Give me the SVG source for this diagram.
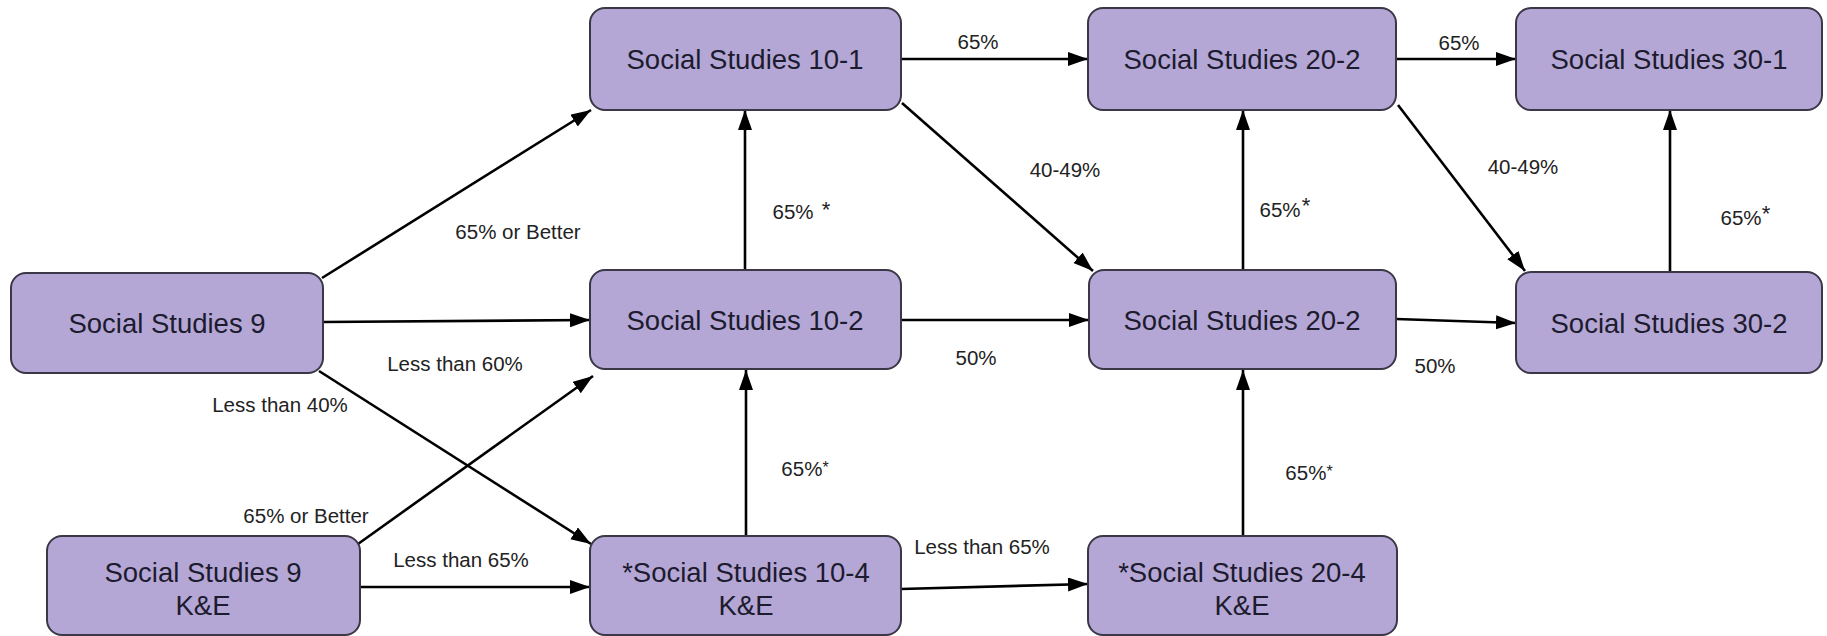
<svg xmlns="http://www.w3.org/2000/svg" width="1827" height="636" viewBox="0 0 1827 636">
<defs>
<marker id="arr" markerUnits="userSpaceOnUse" markerWidth="22" markerHeight="16" refX="20" refY="7" orient="auto">
<path d="M0,0 L20,7 L0,14 z" fill="#000"/>
</marker>
<style>
.box{fill:#b4a7d6;stroke:#3b3746;stroke-width:2}
.nt{font-family:"Liberation Sans",Arial,sans-serif;font-size:27.5px;fill:#1d1b2e;text-anchor:middle}
.lb{font-family:"Liberation Sans",Arial,sans-serif;font-size:20.5px;fill:#222;text-anchor:middle}
.ed{stroke:#000;stroke-width:2.6;fill:none;marker-end:url(#arr)}
</style>
</defs>
<rect width="1827" height="636" fill="#fff"/>
<g id="connectors">
<line class="ed" x1="322" y1="278" x2="591" y2="110"/>
<line class="ed" x1="323" y1="322" x2="590" y2="320"/>
<line class="ed" x1="319" y1="371" x2="591" y2="544"/>
<line class="ed" x1="358" y1="544" x2="593" y2="376"/>
<line class="ed" x1="360" y1="587" x2="590" y2="587"/>
<line class="ed" x1="746" y1="536" x2="746" y2="370"/>
<line class="ed" x1="745" y1="270" x2="745" y2="110"/>
<line class="ed" x1="901" y1="59" x2="1088" y2="59"/>
<line class="ed" x1="902" y1="103" x2="1093" y2="271"/>
<line class="ed" x1="901" y1="320" x2="1089" y2="320"/>
<line class="ed" x1="901" y1="589" x2="1088" y2="584"/>
<line class="ed" x1="1243" y1="536" x2="1243" y2="370"/>
<line class="ed" x1="1243" y1="270" x2="1243" y2="110"/>
<line class="ed" x1="1396" y1="59" x2="1516" y2="59"/>
<line class="ed" x1="1398" y1="105" x2="1525" y2="271"/>
<line class="ed" x1="1396" y1="319" x2="1516" y2="323"/>
<line class="ed" x1="1670" y1="272" x2="1670" y2="110"/>
</g>
<g id="labels">
<text class="lb" x="518" y="239">65% or Better</text>
<text class="lb" x="455" y="371">Less than 60%</text>
<text class="lb" x="280" y="412">Less than 40%</text>
<text class="lb" x="306" y="523">65% or Better</text>
<text class="lb" x="461" y="567">Less than 65%</text>
<text class="lb" x="978" y="49">65%</text>
<text class="lb" x="793" y="219">65%</text>
<text class="lb" x="826" y="217" style="font-size:22px">*</text>
<text class="lb" x="1065" y="177">40-49%</text>
<text class="lb" x="976" y="365">50%</text>
<text class="lb" x="805" y="476">65%<tspan style="font-size:16px" dy="-3">*</tspan></text>
<text class="lb" x="982" y="554">Less than 65%</text>
<text class="lb" x="1459" y="50">65%</text>
<text class="lb" x="1280" y="217">65%</text>
<text class="lb" x="1306" y="213" style="font-size:22px">*</text>
<text class="lb" x="1523" y="174">40-49%</text>
<text class="lb" x="1741" y="225">65%</text>
<text class="lb" x="1766" y="221" style="font-size:22px">*</text>
<text class="lb" x="1435" y="373">50%</text>
<text class="lb" x="1309" y="480">65%<tspan style="font-size:16px" dy="-3">*</tspan></text>
</g>
<g id="ss9">
<rect class="box" x="11" y="273" width="312" height="100" rx="15"/>
<text class="nt" x="167" y="333">Social Studies 9</text>
</g>
<g id="ss9ke">
<rect class="box" x="47" y="536" width="313" height="99" rx="15"/>
<text class="nt" x="203" y="582">Social Studies 9</text>
<text class="nt" x="203" y="615">K&amp;E</text>
</g>
<g id="ss101">
<rect class="box" x="590" y="8" width="311" height="102" rx="15"/>
<text class="nt" x="745" y="69">Social Studies 10-1</text>
</g>
<g id="ss102">
<rect class="box" x="590" y="270" width="311" height="99" rx="15"/>
<text class="nt" x="745" y="330">Social Studies 10-2</text>
</g>
<g id="ss104">
<rect class="box" x="590" y="536" width="311" height="99" rx="15"/>
<text class="nt" x="746" y="582">*Social Studies 10-4</text>
<text class="nt" x="746" y="615">K&amp;E</text>
</g>
<g id="ss202top">
<rect class="box" x="1088" y="8" width="308" height="102" rx="15"/>
<text class="nt" x="1242" y="69">Social Studies 20-2</text>
</g>
<g id="ss202mid">
<rect class="box" x="1089" y="270" width="307" height="99" rx="15"/>
<text class="nt" x="1242" y="330">Social Studies 20-2</text>
</g>
<g id="ss204">
<rect class="box" x="1088" y="536" width="309" height="99" rx="15"/>
<text class="nt" x="1242" y="582">*Social Studies 20-4</text>
<text class="nt" x="1242" y="615">K&amp;E</text>
</g>
<g id="ss301">
<rect class="box" x="1516" y="8" width="306" height="102" rx="15"/>
<text class="nt" x="1669" y="69">Social Studies 30-1</text>
</g>
<g id="ss302">
<rect class="box" x="1516" y="272" width="306" height="101" rx="15"/>
<text class="nt" x="1669" y="333">Social Studies 30-2</text>
</g>
</svg>
